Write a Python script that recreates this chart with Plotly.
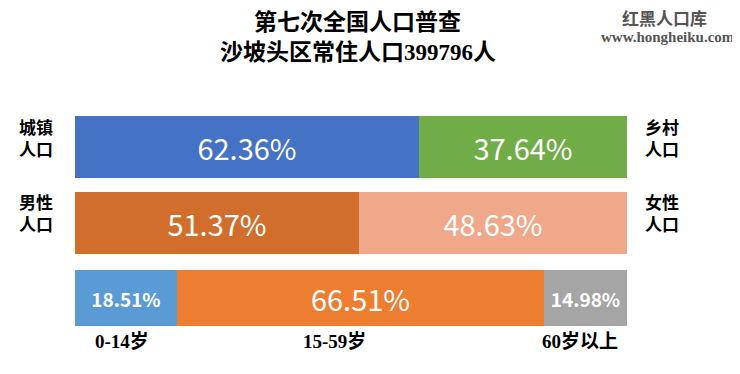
import plotly.graph_objects as go

# ---- data ----
row_names = ["城乡", "性别", "年龄"]
urban_rural_labels = ["城镇人口", "乡村人口"]
urban_rural_values = [62.36, 37.64]
gender_labels = ["男性人口", "女性人口"]
gender_values = [51.37, 48.63]
age_labels = ["0-14岁", "15-59岁", "60岁以上"]
age_values = [18.51, 66.51, 14.98]

title_line1 = "第七次全国人口普查"
title_line2 = "沙坡头区常住人口399796人"

# ---- layout geometry (screen pixels; page body has an 8px margin) ----
OFF = 8
W_FIG, H_FIG = 740 - OFF, 374 - OFF
L, R_PIX = 75, 627
# vertical: bar centres at 147, 223, 298 (screen); 75.5 px per unit
UNIT = 75.5
T = 100
B_PIX = T + (2.5 + 47 / UNIT) * UNIT
PW, PH = R_PIX - L, B_PIX - T

def px(x):
    return (x - L) / PW

def py(y):
    return (B_PIX - y) / PH

SERIF = "Liberation Serif, Noto Sans CJK SC, serif"
SANS = "Noto Sans CJK SC, sans-serif"

fig = go.Figure()

def add_seg(row, val, color, size, width, bold=False):
    txt = f"{val:.2f}%"
    if bold:
        txt = "<b>" + txt + "</b>"
    fig.add_trace(go.Bar(
        x=[val], y=[row], orientation="h",
        marker=dict(color=color, line=dict(width=0)),
        width=width,
        text=[txt], textposition="inside",
        insidetextanchor="middle", constraintext="none",
        textfont=dict(color="white", size=size, family=SANS),
        showlegend=False, hoverinfo="skip",
    ))

c1 = ["#4472C4", "#70AD47"]
for v, c in zip(urban_rural_values, c1):
    add_seg(0, v, c, 29, 0.82)
c2 = ["#D26E2C", "#F0A88A"]
for v, c in zip(gender_values, c2):
    add_seg(1, v, c, 29, 0.82)
c3 = ["#5B9BD5", "#ED7D31", "#A5A5A5"]
sizes3 = [19, 29, 19]
bold3 = [True, False, True]
for v, c, s, b in zip(age_values, c3, sizes3, bold3):
    add_seg(2, v, c, s, 0.74, b)

ann = []
def add_text(x, y, text, size, color="black", family=SERIF):
    ann.append(dict(x=px(x), y=py(y), xref="paper", yref="paper",
                    text=text, showarrow=False, xanchor="center", yanchor="middle",
                    font=dict(size=size, color=color, family=family)))

add_text(358, 23, "<b>" + title_line1 + "</b>", 23)
add_text(358, 53, "<b>" + title_line2 + "</b>", 23)
add_text(664, 20, "<b>红黑人口库</b>", 17, color="#555555")
add_text(668, 37, "<b>www.hongheiku.com</b>", 15, color="#555555")

def two_line(lbl):
    return "<b>" + lbl[:2] + "<br>" + lbl[2:] + "</b>"

add_text(36, 139, two_line(urban_rural_labels[0]), 17)
add_text(662, 139, two_line(urban_rural_labels[1]), 17)
add_text(36, 214, two_line(gender_labels[0]), 17)
add_text(662, 214, two_line(gender_labels[1]), 17)

for xc, lbl in zip([122, 334, 580], age_labels):
    add_text(xc, 341, "<b>" + lbl + "</b>", 19)

fig.update_layout(
    width=W_FIG, height=H_FIG,
    margin=dict(l=L - OFF, r=(W_FIG + OFF) - R_PIX, t=T - OFF,
                b=(H_FIG + OFF) - B_PIX, pad=0),
    barmode="stack", bargap=0,
    plot_bgcolor="white", paper_bgcolor="white",
    xaxis=dict(range=[0, 100], visible=False, fixedrange=True),
    yaxis=dict(range=[2.5, -47 / UNIT], visible=False, fixedrange=True),
    annotations=ann,
    showlegend=False,
)

fig.write_html("out.html", config={"displayModeBar": False})
